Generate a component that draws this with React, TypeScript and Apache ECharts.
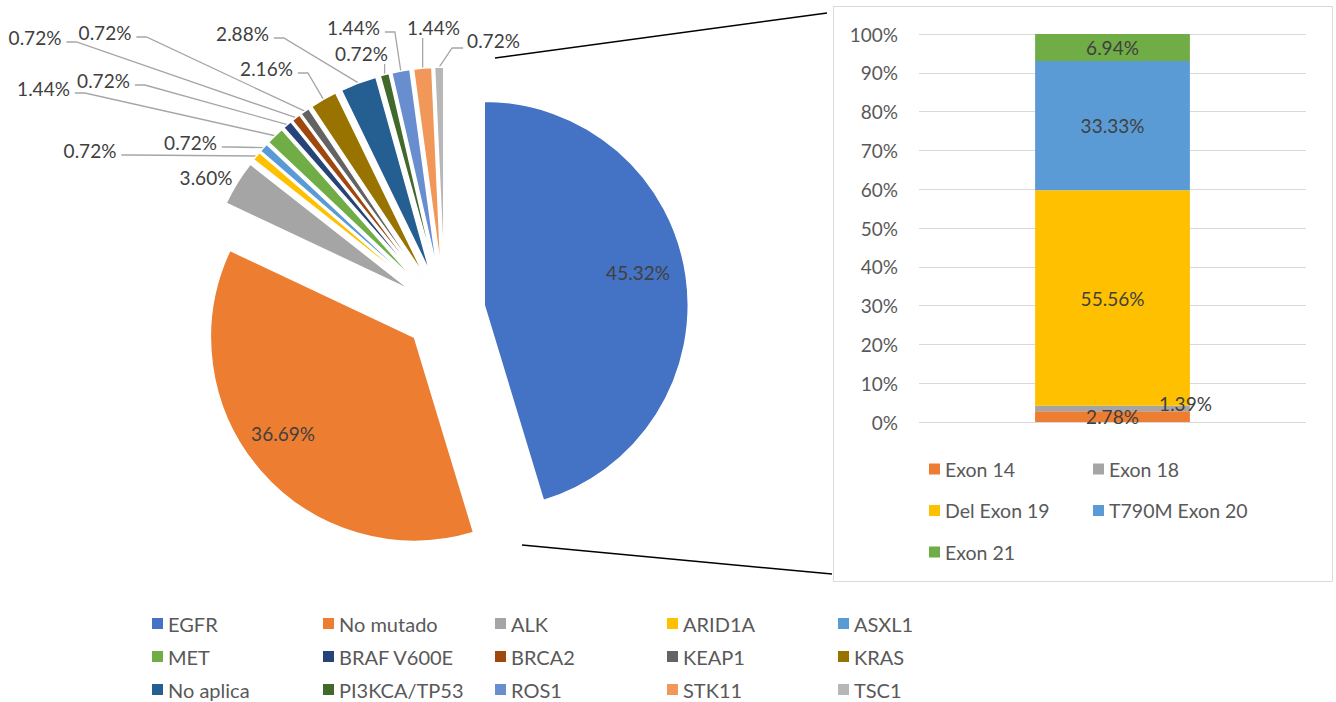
import React, { useEffect, useRef } from 'react';
import * as echarts from 'echarts';

// ---------- data ----------
const pieNames = ['EGFR', 'No mutado', 'ALK', 'ARID1A', 'ASXL1', 'MET', 'BRAF V600E', 'BRCA2', 'KEAP1', 'KRAS', 'No aplica', 'PI3KCA/TP53', 'ROS1', 'STK11', 'TSC1'];
const pieValues = [45.32, 36.69, 3.6, 0.72, 0.72, 1.44, 0.72, 0.72, 0.72, 2.16, 2.88, 0.72, 1.44, 1.44, 0.72];
const pieColors = ['#4472C4', '#ED7D31', '#A5A5A5', '#FFC000', '#5B9BD5', '#70AD47', '#264478', '#9E480E', '#636363', '#997300', '#255E91', '#43682B', '#698ED0', '#F1975A', '#B7B7B7'];

const exonNames = ['Exon 14', 'Exon 18', 'Del Exon 19', 'T790M Exon 20', 'Exon 21'];
const exonValues = [2.78, 1.39, 55.56, 33.33, 6.94];
const exonColors = ['#ED7D31', '#A5A5A5', '#FFC000', '#5B9BD5', '#70AD47'];

// ---------- layout / style ----------
const FONT = 'Lato, "Noto Sans", sans-serif';
const PIE_CENTER = [444.7, 311.1];
const PIE_R = 204;
const EXPLODE = 40;
// label anchor (center) and leader mode per slice
const labelPlace: [number, number, string][] = [
  [638, 272, 'in'],
  [283, 433, 'in'],
  [206, 177, 'none'],
  [90, 150, 'r'],
  [190.5, 142, 'r'],
  [43.5, 88, 'r'],
  [103.5, 80, 'r'],
  [35, 37, 'r'],
  [105, 32, 'r'],
  [266.5, 68, 'r'],
  [242.5, 33, 'r'],
  [361.5, 53, 'v'],
  [353.5, 27, 'r'],
  [433.5, 27, 'v'],
  [493.5, 40, 'l'],
];
const pieLegendCols = [152, 323, 495, 667, 838];

export default function App() {
  const ref = useRef<HTMLDivElement>(null);
  useEffect(() => {
    if (!ref.current) return;
    const chart = echarts.init(ref.current, undefined, { renderer: 'svg' });
    const total = pieValues.reduce((a, b) => a + b, 0);
    let acc = 0;
    const mids = pieValues.map((v) => {
      const m = ((acc + v / 2) / total) * Math.PI * 2;
      acc += v;
      return m;
    });
    const dir = (a: number) => [Math.sin(a), -Math.cos(a)];

    const pieSeries = pieNames.map((name, i) => {
      const d = dir(mids[i]);
      const cx = PIE_CENTER[0] + EXPLODE * d[0];
      const cy = PIE_CENTER[1] + EXPLODE * d[1];
      const tip = [cx + PIE_R * d[0], cy + PIE_R * d[1]];
      const [lx, ly, mode] = labelPlace[i];
      return {
        type: 'pie',
        name: name,
        center: [cx, cy],
        radius: PIE_R,
        startAngle: 90,
        clockwise: true,
        silent: true,
        avoidLabelOverlap: false,
        data: pieNames.map((n, j) => ({
          name: n,
          value: pieValues[j],
          itemStyle: j === i
            ? { color: pieColors[j], borderColor: '#ffffff', borderWidth: 1.5 }
            : { color: 'rgba(0,0,0,0)', borderWidth: 0 },
          label: { show: j === i },
          labelLine: { show: j === i && (mode === 'r' || mode === 'v' || mode === 'l') },
        })),
        label: {
          position: mode === 'in' ? 'inside' : 'outside',
          formatter: (p: any) => p.value.toFixed(2) + '%',
          color: '#404040',
          fontSize: 19,
          fontFamily: FONT,
        },
        labelLine: { length: 10, length2: 10, lineStyle: { color: '#A6A6A6', width: 1.3 } },
        labelLayout: (p: any) => {
          const w = p.labelRect ? p.labelRect.width : 54;
          const out: any = { x: lx, y: ly, align: 'center', verticalAlign: 'middle' };
          if (mode === 'r') {
            const right = lx + w / 2;
            out.labelLinePoints = [tip, [right + 15, ly + 5], [right + 5, ly + 5]];
          } else if (mode === 'v') {
            out.labelLinePoints = [tip, [tip[0], (tip[1] + ly + 11) / 2], [tip[0], ly + 11]];
          } else if (mode === 'l') {
            const left = lx - w / 2;
            out.labelLinePoints = [tip, [left - 15, ly + 8], [left - 4, ly + 8]];
          }
          return out;
        },
      };
    });

    const barSeries = exonNames.map((n, i) => ({
      type: 'bar',
      name: n,
      stack: 'egfr',
      barWidth: '40%',
      data: [exonValues[i]],
      itemStyle: { color: exonColors[i] },
      label: {
        show: true,
        position: 'inside',
        formatter: (p: any) => p.value.toFixed(2) + '%',
        color: '#404040',
        fontSize: 19,
        fontFamily: FONT,
        offset: i === 1 ? [73, -5] : [0, 0],
      },
    }));

    const pieLegends = pieLegendCols.map((left, c) => ({
      orient: 'vertical',
      left: left,
      top: 613.5,
      padding: 0,
      itemGap: 13,
      itemWidth: 11,
      itemHeight: 11,
      icon: 'rect',
      selectedMode: false,
      textStyle: { color: '#595959', fontSize: 20, fontFamily: FONT, lineHeight: 20 },
      data: pieNames
        .map((n, idx) => ({ n, idx }))
        .filter((o) => o.idx % 5 === c)
        .map((o) => ({ name: o.n, itemStyle: { color: pieColors[o.idx] } })),
    }));

    const barLegendCommon = {
      orient: 'vertical',
      top: 459,
      padding: 0,
      itemGap: 21.5,
      itemWidth: 11,
      itemHeight: 11,
      icon: 'rect',
      selectedMode: false,
      textStyle: { color: '#595959', fontSize: 19.5, fontFamily: FONT, lineHeight: 20 },
    };

    chart.setOption({
      animation: false,
      backgroundColor: '#ffffff',
      graphic: [
        { type: 'rect', z: 0, shape: { x: 833.5, y: 6.5, width: 499, height: 575 }, style: { fill: 'none', stroke: '#D9D9D9', lineWidth: 1 } },
        { type: 'line', z: 0, shape: { x1: 495, y1: 58, x2: 827, y2: 13 }, style: { stroke: '#000000', lineWidth: 1.5 } },
        { type: 'line', z: 0, shape: { x1: 522, y1: 545, x2: 832, y2: 574 }, style: { stroke: '#000000', lineWidth: 1.5 } },
      ],
      legend: [
        ...pieLegends,
        { ...barLegendCommon, left: 929, data: [exonNames[0], exonNames[2], exonNames[4]] },
        { ...barLegendCommon, left: 1093, data: [exonNames[1], exonNames[3]] },
      ],
      grid: { left: 919, top: 34, width: 387, height: 388 },
      xAxis: {
        type: 'category',
        data: [''],
        axisLine: { show: false },
        axisTick: { show: false },
        axisLabel: { show: false },
      },
      yAxis: {
        type: 'value',
        min: 0,
        max: 100,
        interval: 10,
        axisLabel: { formatter: '{value}%', color: '#595959', fontSize: 19, fontFamily: FONT, margin: 21 },
        splitLine: { lineStyle: { color: '#D9D9D9', width: 1.2 } },
        axisLine: { show: false },
        axisTick: { show: false },
      },
      series: [...pieSeries, ...barSeries],
    });
    return () => chart.dispose();
  }, []);
  return <div ref={ref} style={{ position: 'absolute', left: 0, top: 0, width: 1336, height: 702 }} />;
}
